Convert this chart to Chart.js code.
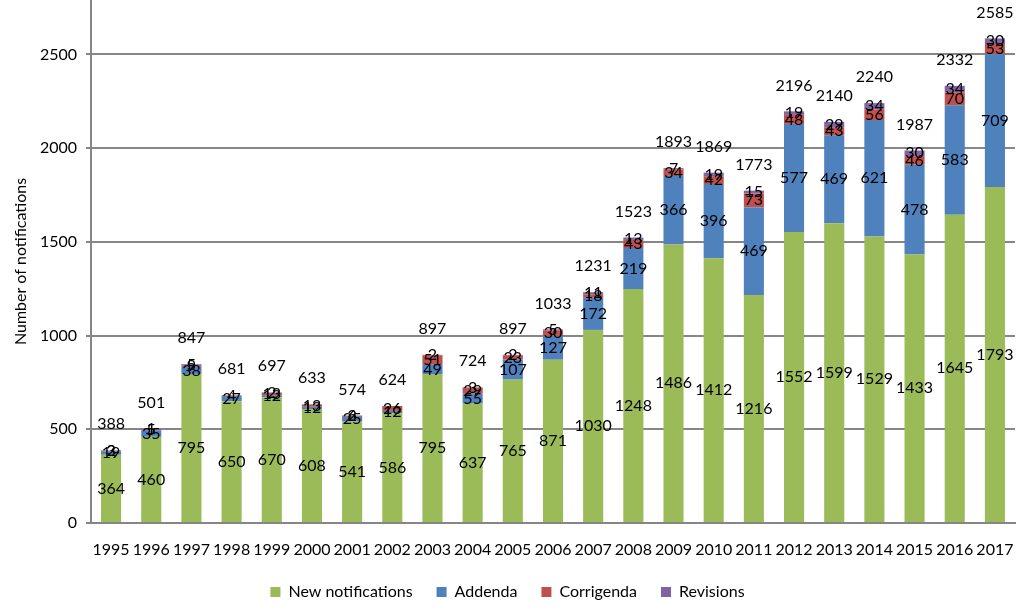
<!DOCTYPE html>
<html><head><meta charset="utf-8">
<script src="https://cdn.jsdelivr.net/npm/chart.js@4/dist/chart.umd.min.js"></script>
<style>html,body{margin:0;padding:0;background:#fff}</style>
</head><body>
<canvas id="c" width="1024" height="610"></canvas>
<script>
const years = ["1995","1996","1997","1998","1999","2000","2001","2002","2003","2004","2005","2006","2007","2008","2009","2010","2011","2012","2013","2014","2015","2016","2017"];
const newNotifications = [364,460,795,650,670,608,541,586,795,637,765,871,1030,1248,1486,1412,1216,1552,1599,1529,1433,1645,1793];
const addenda =          [19,35,38,27,12,12,25,12,49,55,107,127,172,219,366,396,469,577,469,621,478,583,709];
const corrigenda =       [3,5,9,4,13,13,6,26,51,29,23,30,18,43,34,42,73,48,43,56,46,70,53];
const revisions =        [2,1,5,null,2,null,2,null,2,3,2,5,11,13,7,19,15,19,29,34,30,34,30];
const yTickValues = [0,500,1000,1500,2000,2500];

const FONT = 'Lato, "Noto Sans", sans-serif';

const labelPlugin = {
  id: 'labels',
  afterDatasetsDraw(chart) {
    const ctx = chart.ctx;
    ctx.save();
    ctx.font = '16px ' + FONT;
    ctx.fillStyle = '#000';
    ctx.textAlign = 'center';
    ctx.textBaseline = 'middle';
    chart.data.datasets.forEach((ds, di) => {
      const meta = chart.getDatasetMeta(di);
      meta.data.forEach((bar, i) => {
        const v = ds.data[i];
        if (v === null || v === undefined) return;
        const p = bar.getProps(['x','y','base'], true);
        ctx.fillText(String(v), p.x, (p.y + p.base) / 2);
      });
    });
    const n = chart.data.labels.length;
    const yScale = chart.scales.y;
    const topMeta = chart.getDatasetMeta(0);
    for (let i = 0; i < n; i++) {
      let sum = 0;
      chart.data.datasets.forEach(ds => { sum += ds.data[i] || 0; });
      const x = topMeta.data[i].x;
      const y = yScale.getPixelForValue(sum);
      ctx.fillText(String(sum), x, y - 26);
    }
    ctx.restore();
  }
};

new Chart(document.getElementById('c'), {
  type: 'bar',
  data: {
    labels: years,
    datasets: [
      { label: 'New notifications', data: newNotifications, backgroundColor: '#9BBB59' },
      { label: 'Addenda', data: addenda, backgroundColor: '#4F81BD' },
      { label: 'Corrigenda', data: corrigenda, backgroundColor: '#C0504D' },
      { label: 'Revisions', data: revisions, backgroundColor: '#8064A2' }
    ]
  },
  options: {
    responsive: false,
    animation: false,
    events: [],
    layout: { padding: { top: 0, right: 9, bottom: 0, left: 0 } },
    datasets: { bar: { barPercentage: 0.5, categoryPercentage: 1.0 } },
    plugins: {
      tooltip: { enabled: false },
      legend: {
        position: 'bottom',
        labels: { font: { size: 16, family: FONT }, color: '#000', boxWidth: 10, boxHeight: 10, padding: 24 }
      }
    },
    scales: {
      x: {
        stacked: true,
        grid: { display: false, drawTicks: false },
        border: { display: true, color: '#868686', width: 2 },
        ticks: { font: { size: 16, family: FONT }, color: '#000', padding: 17, maxRotation: 0, autoSkip: false },
        afterFit(s) { s.height = 37; s.paddingLeft = 0; s.paddingRight = 0; }
      },
      y: {
        stacked: true,
        min: 0, max: 2790,
        afterBuildTicks(s) { s.ticks = yTickValues.map(v => ({ value: v })); },
        grid: { color: '#868686', lineWidth: 2, tickLength: 5 },
        border: { display: true, color: '#868686', width: 2 },
        ticks: { font: { size: 16, family: FONT }, color: '#000', padding: 9, callback: v => String(v) },
        title: { display: true, text: 'Number of notifications', font: { size: 16, family: FONT }, color: '#000', padding: { top: 11, bottom: 0 } },
        afterFit(s) { s.width = 91; s.paddingTop = 0; s.paddingBottom = 0; }
      }
    }
  },
  plugins: [labelPlugin]
});
</script>
</body></html>
